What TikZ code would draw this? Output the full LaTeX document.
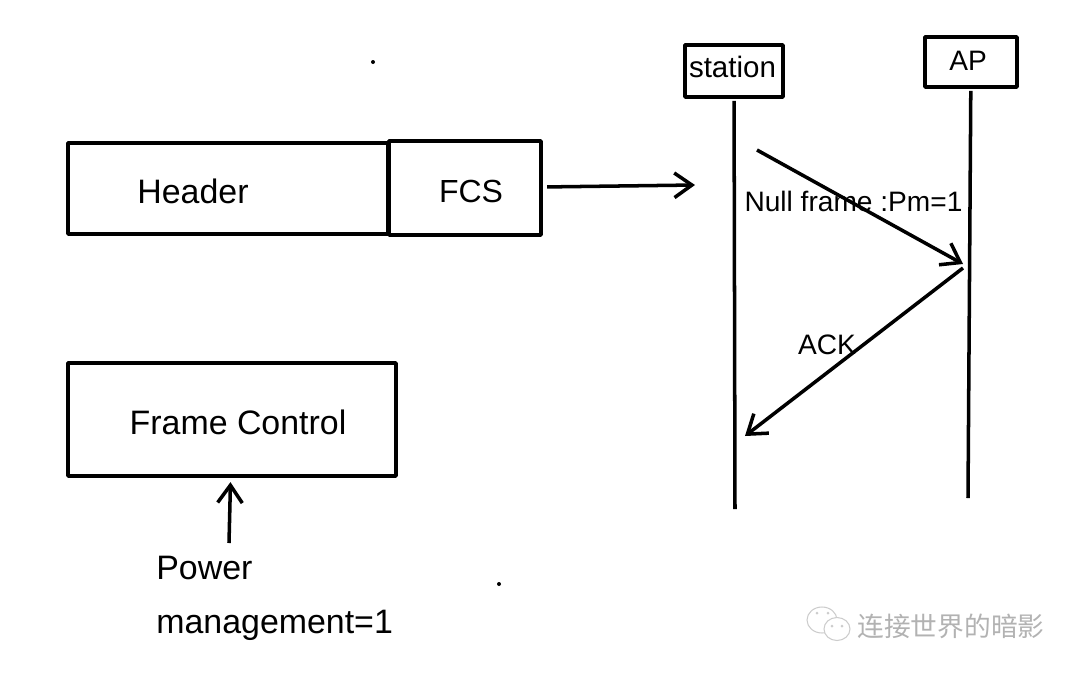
\documentclass[tikz,border=0pt]{standalone}
\usepackage{fontspec}
\setmainfont{Liberation Sans}
\newfontfamily\cjkfont{Noto Sans CJK SC}
\usetikzlibrary{arrows.meta}
\tikzset{
  framebox/.style={draw, line width=2pt, line join=round, inner sep=0pt, outer sep=0pt},
  bigtext/.style={font=\fontsize{19.3}{23}\selectfont, inner sep=0pt},
  smalltext/.style={font=\fontsize{16}{19}\selectfont, inner sep=0pt},
  lifeline/.style={line width=2pt, shorten <=2.2pt},
  message/.style={line width=2pt, -{Straight Barb[length=10pt,width=14pt,line width=2pt]}},
}
\begin{document}
\begin{tikzpicture}[x=0.02cm, y=-0.02cm]
  \useasboundingbox (0, 0) rectangle (1080, 674);

  % Frame boxes
  \node[framebox, minimum width=6.4cm, minimum height=1.82cm] (header) at (228, 188.5) {};
  \node[framebox, minimum width=3.04cm, minimum height=1.88cm] (fcs) at (465, 188) {};
  \node[framebox, minimum width=6.56cm, minimum height=2.26cm] (control) at (232, 419.5) {};
  \node[bigtext] (headertext) at (193, 191) {Header};
  \node[bigtext, font=\fontsize{18.2}{22}\selectfont] (fcstext) at (471, 191) {FCS};
  \node[bigtext] (controltext) at (238, 422) {Frame Control};

  % Power management
  \node[bigtext, align=left, anchor=north west, font=\fontsize{19.3}{30.5}\selectfont] (power) at (156, 556) {Power\\management=1};
  \coordinate (powerfoot) at (229, 543);
  \draw[message, shorten >=3.5pt] (powerfoot) -- (control);

  % Sequence
  \node[framebox, minimum width=1.96cm, minimum height=1.04cm] (station) at (734, 71) {};
  \node[framebox, minimum width=1.84cm, minimum height=1cm] (ap) at (971, 62) {};
  \node[smalltext, font=\fontsize{16.8}{20}\selectfont] (stationtext) at (732.5, 67) {station};
  \node[smalltext] (aptext) at (968, 61) {AP};
  \coordinate (stationend) at (735, 509);
  \coordinate (apend) at (968, 498);
  \draw[lifeline] (station) -- (stationend);
  \draw[lifeline] (ap) -- (apend);

  % Arrows
  \coordinate (fcsend) at (695, 185);
  \draw[message, shorten <=3.5pt] (fcs) -- (fcsend);
  \coordinate (nullstart) at (757, 150);
  \coordinate (nullend) at (963, 264);
  \coordinate (ackstart) at (963, 268);
  \coordinate (ackend) at (745, 436);
  \draw[message] (nullstart) -- (nullend);
  \draw[message] (ackstart) -- (ackend);
  \node[smalltext] (nulltext) at (853.5, 201) {Null frame :Pm=1};
  \node[smalltext] (acktext) at (827, 345) {ACK};

  % Specks
  \fill (373, 62) circle (2) coordinate (speckone);
  \fill (499, 584) circle (2) coordinate (specktwo);

  % Watermark
  \draw[gray!40, line width=0.6pt] (822, 620) ellipse (15 and 13);
  \draw[gray!40, line width=0.6pt, fill=white] (837, 629) ellipse (13 and 11.5);
  \fill[gray!40] (817, 613) circle (1.5) (828, 613) circle (1.5) (832, 626) circle (1.5) (842, 626) circle (1.5);
  \node[inner sep=0pt, gray!60, font=\cjkfont\fontsize{15.2}{18}\selectfont] (mark) at (951, 626) {连接世界的暗影};
\end{tikzpicture}
\end{document}
